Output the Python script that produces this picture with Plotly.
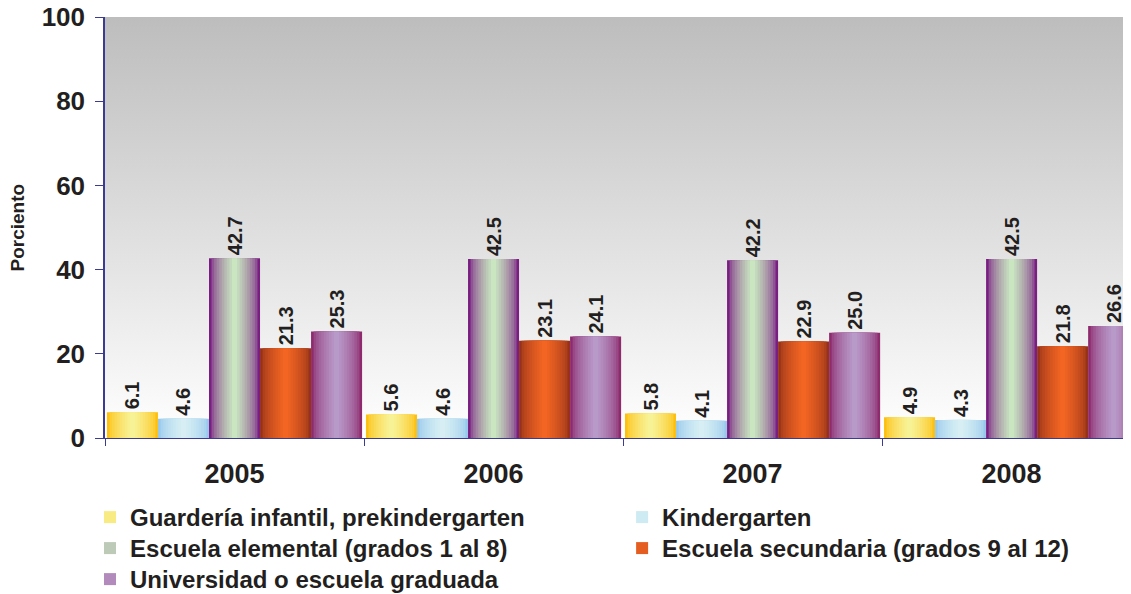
import base64
import plotly.graph_objects as go

# ---- data ----
years = ["2005", "2006", "2007", "2008"]
series_names = [
    "Guardería infantil, prekindergarten",
    "Kindergarten",
    "Escuela elemental (grados 1 al 8)",
    "Escuela secundaria (grados 9 al 12)",
    "Universidad o escuela graduada",
]
guarderia = [6.1, 5.6, 5.8, 4.9]
kinder = [4.6, 4.6, 4.1, 4.3]
elemental = [42.7, 42.5, 42.2, 42.5]
secundaria = [21.3, 23.1, 22.9, 21.8]
universidad = [25.3, 24.1, 25.0, 26.6]
y_ticks = [0, 20, 40, 60, 80, 100]

# ---- styles ----
series_values = [guarderia, kinder, elemental, secundaria, universidad]
edge_colors = ["#FDBF10", "#98C9EC", "#7A1F82", "#953219", "#8E2A6E"]
center_colors = ["#F8F296", "#D7EFF4", "#C9E6C1", "#F26522", "#B89AC9"]
# legend grid: (column x, row y) in paper fractions
leg_cols = [-0.0146, 0.504]
leg_rows = [-0.1354, -0.209, -0.2827]
FONT = "Arial, Liberation Sans, sans-serif"
TXT = "#231F20"
AXC = "#3B3B94"


def hex2rgb(h):
    h = h.lstrip("#")
    return tuple(int(h[i:i + 2], 16) for i in (0, 2, 4))


def mix(a, b, t):
    ra, rb = hex2rgb(a), hex2rgb(b)
    return "rgb(%d,%d,%d)" % tuple(round(ra[i] + (rb[i] - ra[i]) * t) for i in range(3))


fig = go.Figure()

n_series = len(series_values)
bar_w = 0.197
start = -bar_w * n_series / 2
N_LAYERS = 10

for i, (name, vals) in enumerate(zip(series_names, series_values)):
    base_off = start + i * bar_w
    leg_id = "legend" if i == 0 else f"legend{i + 1}"
    for k in range(N_LAYERS):
        frac = k / (N_LAYERS - 1)
        width_k = bar_w * (1 - k / N_LAYERS)
        off_k = base_off + (bar_w - width_k) / 2
        col = mix(edge_colors[i], center_colors[i], frac ** 0.6)
        show_leg = (k == 7)
        kw = {}
        if k == 0:
            kw = dict(
                text=[f"{v:.1f}" for v in vals],
                textposition="outside",
                textangle=-90,
                textfont=dict(family=FONT, size=20, color=TXT, weight="bold"),
                constraintext="none",
                cliponaxis=False,
            )
        fig.add_trace(go.Bar(
            x=years, y=vals,
            width=[width_k] * len(years),
            offset=[off_k] * len(years),
            marker=dict(color=col, line=dict(width=0)),
            name=name,
            legendgroup=name,
            legend=leg_id,
            showlegend=show_leg,
            hoverinfo="skip" if k else "x+y+name",
            **kw,
        ))

svg = ('<svg xmlns="http://www.w3.org/2000/svg" width="100" height="100" preserveAspectRatio="none">'
       '<defs><linearGradient id="g" x1="0" y1="0" x2="0" y2="1">'
       '<stop offset="0" stop-color="#bdbdbd"/><stop offset="1" stop-color="#ffffff"/>'
       '</linearGradient></defs><rect width="100" height="100" fill="url(#g)"/></svg>')
src = "data:image/svg+xml;base64," + base64.b64encode(svg.encode()).decode()

legend_common = dict(
    orientation="v", xanchor="left", yanchor="top", traceorder="normal",
    font=dict(family=FONT, size=24, color=TXT, weight="bold"),
    bgcolor="rgba(0,0,0,0)",
)
legends = {}
for i in range(n_series):
    key = "legend" if i == 0 else f"legend{i + 1}"
    legends[key] = dict(x=leg_cols[i % 2], y=leg_rows[i // 2], **legend_common)

# page body has an 8px margin: figure is sized to the visible area
fig.update_layout(
    width=1123, height=586,
    margin=dict(l=97, r=0, t=9, b=156, autoexpand=False),
    paper_bgcolor="white",
    plot_bgcolor="rgba(0,0,0,0)",
    barmode="overlay",
    font=dict(family=FONT, color=TXT),
    images=[dict(source=src, xref="paper", yref="paper", x=0, y=1, sizex=1, sizey=1,
                 sizing="stretch", xanchor="left", yanchor="top", layer="below")],
    xaxis=dict(
        type="category", categoryorder="array", categoryarray=years,
        range=[-0.5, 3.461], automargin=False,
        tickson="boundaries", ticks="outside", ticklen=7, tickcolor=AXC, tickwidth=1,
        showline=True, linecolor=AXC, linewidth=1,
        showgrid=False, zeroline=False,
        tickfont=dict(family=FONT, size=27, color=TXT, weight="bold"),
        ticklabelstandoff=12,
    ),
    yaxis=dict(
        range=[0, 100], tickvals=y_ticks, automargin=False,
        ticks="outside", ticklen=8, tickcolor=AXC, tickwidth=1,
        showline=True, linecolor=AXC, linewidth=1.5,
        showgrid=False, zeroline=False,
        tickfont=dict(family=FONT, size=26, color=TXT, weight="bold"),
        ticklabelstandoff=5, ticklabeloverflow="allow",
    ),
    annotations=[dict(
        text="Porciento", textangle=-90, showarrow=False,
        xref="paper", yref="paper", x=-0.0848, y=0.5, xanchor="center", yanchor="middle",
        font=dict(family=FONT, size=19, color=TXT, weight="bold"),
    )],
    showlegend=True,
    **legends,
)

fig.write_html("out.html")
